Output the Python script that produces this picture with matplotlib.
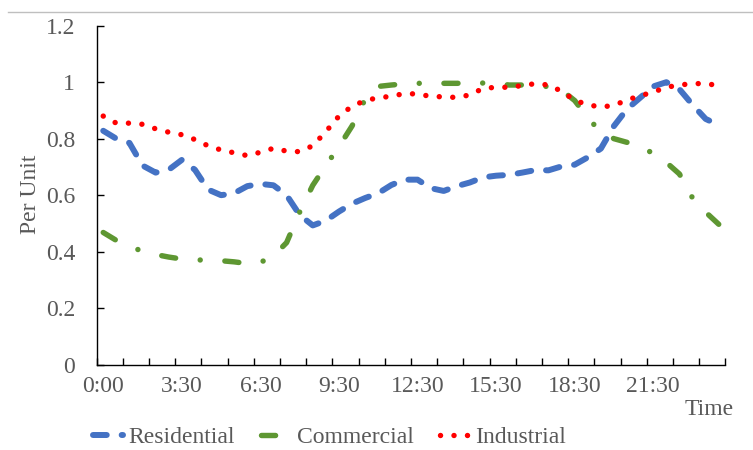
import matplotlib
matplotlib.use("Agg")
import matplotlib.pyplot as plt
from matplotlib.lines import Line2D

# half-hourly samples, 48 categories
residential = [0.828, 0.800, 0.785, 0.705, 0.680, 0.690, 0.725, 0.690,
               0.620, 0.600, 0.607, 0.632, 0.640, 0.635, 0.600, 0.530,
               0.493, 0.510, 0.542, 0.570, 0.590, 0.607, 0.636, 0.655,
               0.655, 0.625, 0.615, 0.632, 0.645, 0.663, 0.669, 0.672,
               0.680, 0.689, 0.688, 0.702, 0.708, 0.734, 0.765, 0.845,
               0.905, 0.945, 0.985, 1.000, 0.975, 0.920, 0.870, 0.848]
commercial = [0.468, 0.440, 0.418, 0.402, 0.390, 0.381, 0.374, 0.371,
              0.370, 0.368, 0.364, 0.358, 0.362, 0.385, 0.432, 0.540,
              0.635, 0.705, 0.772, 0.845, 0.940, 0.985, 0.990, 0.994,
              0.996, 0.996, 0.996, 0.996, 0.997, 0.997, 0.995, 0.990,
              0.990, 0.990, 0.984, 0.972, 0.935, 0.875, 0.822, 0.800,
              0.787, 0.774, 0.747, 0.716, 0.675, 0.590, 0.540, 0.497]
industrial = [0.880, 0.855, 0.855, 0.851, 0.835, 0.823, 0.814, 0.797,
              0.775, 0.760, 0.750, 0.740, 0.752, 0.766, 0.756, 0.754,
              0.775, 0.825, 0.880, 0.915, 0.935, 0.945, 0.950, 0.960,
              0.958, 0.950, 0.948, 0.946, 0.955, 0.978, 0.982, 0.982,
              0.988, 0.995, 0.990, 0.968, 0.936, 0.920, 0.912, 0.918,
              0.937, 0.952, 0.965, 0.982, 0.990, 0.995, 0.995, 0.988]

time_labels = ["0:00", "3:30", "6:30", "9:30", "12:30", "15:30", "18:30", "21:30"]
y_ticks = [0, 0.2, 0.4, 0.6, 0.8, 1.0, 1.2]
y_labels = ["0", "0.2", "0.4", "0.6", "0.8", "1", "1.2"]

plt.rcParams['font.family'] = ['Liberation Serif', 'DejaVu Serif']
grey = '#595959'

fig = plt.figure(figsize=(7.53, 4.5), dpi=100)
ax = fig.add_axes([0.1284, 0.1896, 0.9632 - 0.1284, 0.9429 - 0.1896])

x = [i + 0.5 for i in range(len(residential))]

ax.plot(x, residential, color='#4472C4', lw=4.3, linestyle=(0, (2.3, 2.5)),
        dash_capstyle='round', solid_capstyle='round', label='Residential')
ax.plot(x, commercial, color='#5E9732', lw=3.9, linestyle=(0, (2.6, 4.55, 0.01, 4.55)),
        dash_capstyle='round', solid_capstyle='round', label='Commercial')
ax.plot(x, industrial, color='#FF0000', lw=3.9, linestyle=(0, (0.01, 2.48)),
        dash_capstyle='round', solid_capstyle='round', label='Industrial')

ax.set_xlim(0, 48)
ax.set_ylim(0, 1.2)

ax.set_xticks(range(0, 49, 2), minor=True)
ax.set_xticks([6 * k + 0.5 for k in range(len(time_labels))])
ax.set_xticklabels(time_labels)
ax.tick_params(axis='x', which='major', length=0, pad=8, labelsize=17, labelcolor=grey)
ax.tick_params(axis='x', which='minor', direction='in', length=4.8, width=1, color='black')

ax.set_yticks(y_ticks)
ax.set_yticklabels(y_labels)
ax.tick_params(axis='y', direction='in', length=4.8, width=1, pad=15.5,
               labelsize=17, labelcolor=grey)

for side in ['top', 'right']:
    ax.spines[side].set_visible(False)
for side in ['left', 'bottom']:
    ax.spines[side].set_color('black')
    ax.spines[side].set_linewidth(1)

fig.text(0.040, 0.569, 'Per Unit', rotation=90, ha='center', va='center',
         fontsize=17, color=grey)
fig.text(0.9416, 0.089, 'Time', ha='center', va='center', fontsize=17, color=grey)

# chart border remnant at top
fig.add_artist(Line2D([0.0106, 1.0], [0.9733, 0.9733], color='#BFBFBF', lw=1.0,
                      transform=fig.transFigure))

leg = fig.legend(loc='center left', bbox_to_anchor=(93 / 753, 13 / 450), ncol=3,
                 frameon=False, fontsize=17, handlelength=1.25, handletextpad=0.25,
                 columnspacing=1.12, borderpad=0, borderaxespad=0)
for t in leg.get_texts():
    t.set_color(grey)

fig.savefig('out.png', dpi=100)
